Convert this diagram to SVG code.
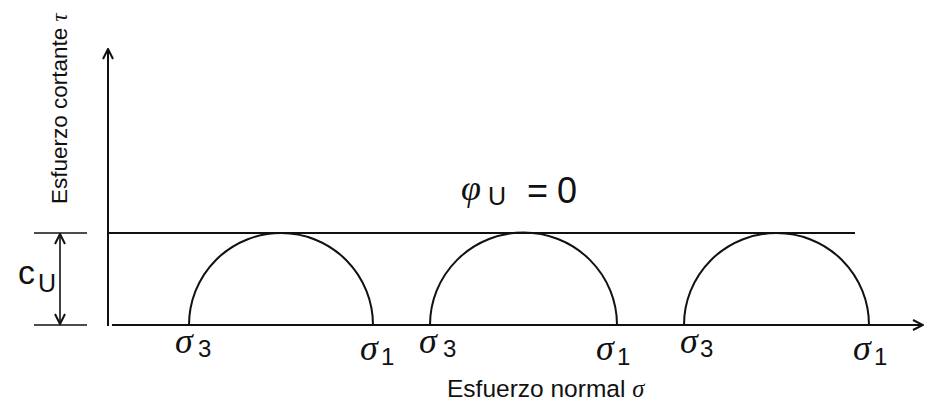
<svg xmlns="http://www.w3.org/2000/svg" width="934" height="404" viewBox="0 0 934 404">
<defs>
<marker id="open" viewBox="0 0 12 12" refX="11" refY="6" markerWidth="12" markerHeight="12" markerUnits="userSpaceOnUse" orient="auto-start-reverse">
<path d="M1,1 L11,6 L1,11" fill="none" stroke="#111" stroke-width="2"/>
</marker>
</defs>
<style>
.ln{stroke:#111;stroke-width:2;fill:none}
.thin{stroke:#111;stroke-width:1.6;fill:none}
.sans{font-family:"Liberation Sans",Arial,sans-serif;fill:#111}
.sig{font-family:"Liberation Serif","Times New Roman",serif;font-style:italic;fill:#111;font-size:36px}
.sub{font-family:"Liberation Sans",Arial,sans-serif;fill:#111;font-size:24px}
</style>
<rect width="934" height="404" fill="#fff"/>
<g id="axes">
<line class="ln" x1="108" y1="326" x2="108" y2="49" marker-end="url(#open)"/>
<line class="ln" x1="112" y1="325" x2="923" y2="325" marker-end="url(#open)"/>
<line class="ln" x1="108" y1="233" x2="855" y2="233"/>
</g>
<g id="cu">
<line class="thin" x1="34" y1="233" x2="87" y2="233"/>
<line class="thin" x1="34" y1="325" x2="87" y2="325"/>
<line class="thin" x1="60" y1="234" x2="60" y2="324" marker-start="url(#open)" marker-end="url(#open)"/>
<text class="sans" x="18" y="284" font-size="34">c</text>
<text class="sans" x="38" y="292" font-size="25">U</text>
</g>
<g id="circles">
<path class="ln" d="M189,325 A92,92 0 0 1 373,325"/>
<path class="ln" d="M430,325 A93,92 0 0 1 617,325"/>
<path class="ln" d="M684,325 A92.5,92 0 0 1 869,325"/>
</g>
<g id="labels">
<text class="sig" x="175" y="353">σ</text><text class="sub" x="198" y="357">3</text>
<text class="sig" x="360" y="360">σ</text><text class="sub" x="381" y="365">1</text>
<text class="sig" x="419" y="353">σ</text><text class="sub" x="443" y="357">3</text>
<text class="sig" x="596" y="360">σ</text><text class="sub" x="617" y="365">1</text>
<text class="sig" x="680" y="353">σ</text><text class="sub" x="700" y="357">3</text>
<text class="sig" x="853" y="360">σ</text><text class="sub" x="874" y="365">1</text>
<text class="sans" x="447" y="397" font-size="24.5">Esfuerzo normal <tspan font-family="Liberation Serif" font-style="italic">σ</tspan></text>
<text class="sans" font-size="22.5" transform="translate(67,204) rotate(-90)">Esfuerzo cortante <tspan font-family="Liberation Serif" font-style="italic">τ</tspan></text>
<text class="sig" x="461" y="200" font-size="38">φ</text>
<text class="sans" x="488" y="205" font-size="25">U</text>
<text class="sans" x="527" y="203" font-size="36">=</text>
<text class="sans" x="557" y="203" font-size="36">0</text>
</g>
</svg>
